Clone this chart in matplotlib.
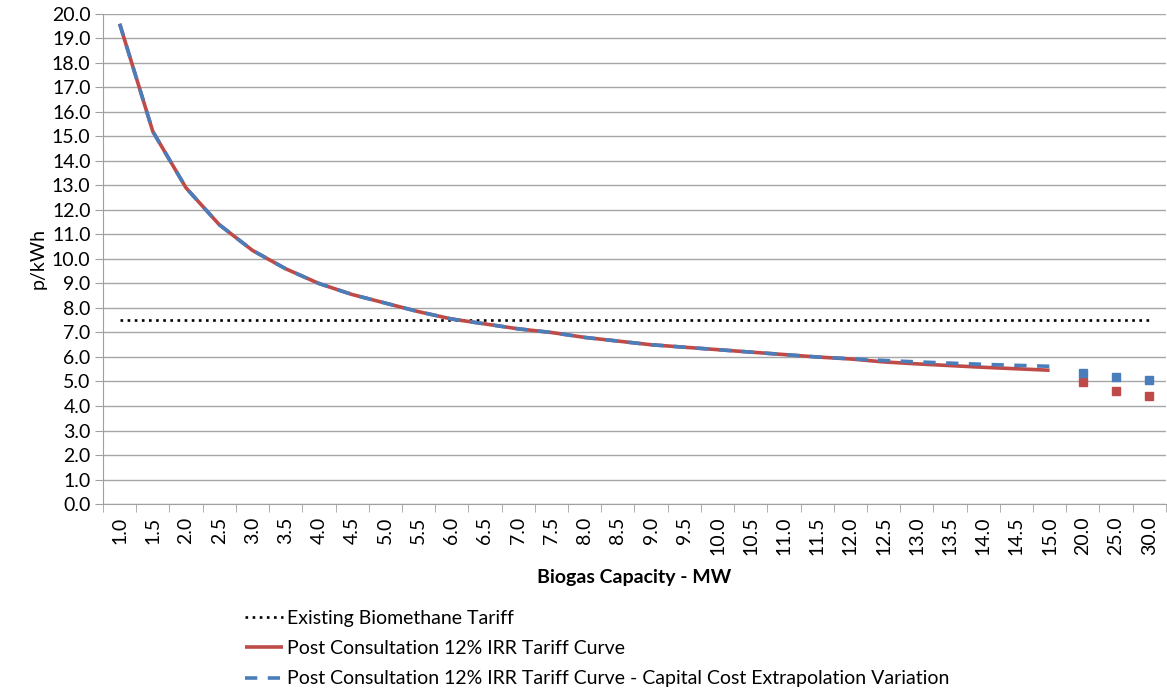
import matplotlib
matplotlib.use("Agg")
import matplotlib.pyplot as plt

plt.rcParams['font.family'] = ['Lato', 'DejaVu Sans']

# capacity categories (MW)
categories = ["1.0", "1.5", "2.0", "2.5", "3.0", "3.5", "4.0", "4.5", "5.0", "5.5",
              "6.0", "6.5", "7.0", "7.5", "8.0", "8.5", "9.0", "9.5", "10.0", "10.5",
              "11.0", "11.5", "12.0", "12.5", "13.0", "13.5", "14.0", "14.5", "15.0",
              "20.0", "25.0", "30.0"]

existing_tariff = [7.5] * len(categories)

# curve part (1.0 - 15.0 MW)
post_consult = [19.6, 15.2, 12.9, 11.4, 10.35, 9.6, 9.0, 8.55, 8.2, 7.85,
                7.55, 7.35, 7.15, 7.0, 6.8, 6.65, 6.5, 6.4, 6.3, 6.2,
                6.1, 6.0, 5.92, 5.8, 5.72, 5.65, 5.58, 5.52, 5.46]
capcost_var = [19.6, 15.2, 12.9, 11.4, 10.35, 9.6, 9.0, 8.55, 8.2, 7.85,
               7.55, 7.35, 7.15, 7.0, 6.8, 6.65, 6.5, 6.4, 6.3, 6.2,
               6.1, 6.0, 5.93, 5.86, 5.8, 5.75, 5.7, 5.66, 5.62]
# isolated points (20, 25, 30 MW)
post_consult_ext = [4.97, 4.62, 4.42]
capcost_var_ext = [5.35, 5.18, 5.05]

red = "#be4b48"
blue = "#4a7ebb"

fig = plt.figure(figsize=(11.67, 6.89), dpi=100)
ax = fig.add_axes([0.0883, 0.2685, 0.9107, 0.7112])

x_all = list(range(len(categories)))
n = len(post_consult)
x_ext = x_all[n:]

ax.plot(x_all, existing_tariff, color="black", lw=1.9, linestyle=(0, (1, 1.7)),
        label="Existing Biomethane Tariff")
ax.plot(x_all[:n], post_consult, color=red, lw=2.6, solid_capstyle="butt",
        label="Post Consultation 12% IRR Tariff Curve")
ax.plot(x_all[:n], capcost_var, color=blue, lw=2.6, linestyle=(0, (3.4, 2.9)),
        dash_capstyle="butt",
        label="Post Consultation 12% IRR Tariff Curve - Capital Cost Extrapolation Variation")
ax.plot(x_ext, post_consult_ext, linestyle="none", marker="s", ms=5.5, color=red)
ax.plot(x_ext, capcost_var_ext, linestyle="none", marker="s", ms=5.5, color=blue)

ax.set_xlim(-0.5, len(categories) - 0.5)
ax.set_ylim(0, 20)
ax.set_yticks([i for i in range(21)])
ax.set_yticklabels([f"{i:.1f}" for i in range(21)], fontsize=14)
ax.set_xticks(x_all)
ax.set_xticklabels(categories, rotation=90, fontsize=14)
ax.set_xticks([i - 0.5 for i in range(len(categories) + 1)], minor=True)
ax.tick_params(axis="x", which="major", length=0, pad=9)
ax.tick_params(axis="x", which="minor", length=6, color="#a0a0a0")
ax.tick_params(axis="y", length=6, color="#a0a0a0", pad=3)

ax.grid(axis="y", color="#a6a6a6", lw=1)
ax.set_axisbelow(True)
for s in ["top", "right"]:
    ax.spines[s].set_visible(False)
ax.spines["left"].set_color("#a0a0a0")
ax.spines["bottom"].set_color("#a0a0a0")

ax.set_ylabel("p/kWh", fontsize=14, labelpad=4)
ax.set_xlabel("Biogas Capacity - MW", fontsize=14, fontweight="bold", labelpad=10)

fig.legend(loc="upper left", bbox_to_anchor=(0.203, 0.126), frameon=False,
           fontsize=14, handlelength=1.95, handletextpad=0.25,
           labelspacing=0.68, borderaxespad=0)

fig.savefig("out.png", dpi=100)
